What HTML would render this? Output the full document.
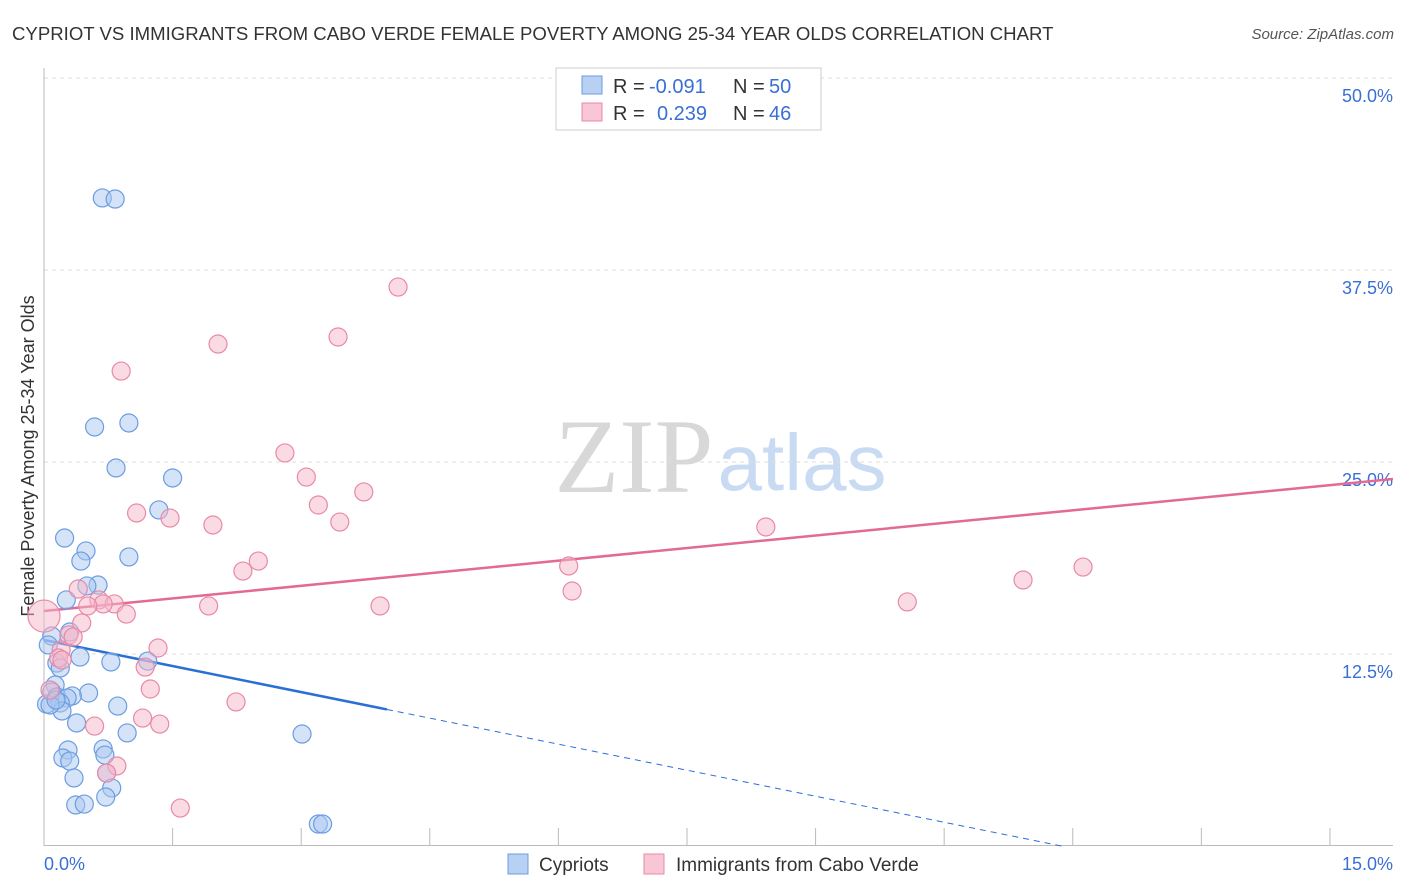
<!DOCTYPE html>
<html><head><meta charset="utf-8"><style>
body{margin:0;background:#fff;font-family:"Liberation Sans",sans-serif;}
svg{display:block}
</style></head><body>
<svg id="chart" width="1406" height="892" xmlns="http://www.w3.org/2000/svg">
<text x="12" y="40" font-size="18.6" fill="#333">CYPRIOT VS IMMIGRANTS FROM CABO VERDE FEMALE POVERTY AMONG 25-34 YEAR OLDS CORRELATION CHART</text>
<text x="1394" y="39" font-size="15" fill="#555" font-style="italic" text-anchor="end">Source: ZipAtlas.com</text>
<text transform="translate(34,456) rotate(-90)" font-size="18" fill="#333" text-anchor="middle">Female Poverty Among 25-34 Year Olds</text>
<g>
<text x="634" y="492" font-size="106" fill="#d8d8d8" font-family="Liberation Serif,serif" text-anchor="middle">ZIP</text>
<text x="802" y="490" font-size="80" fill="#c9dbf2" text-anchor="middle">atlas</text>
</g>
<g id="grid"></g><g id="axes"></g><g id="trend"></g><g id="pts"></g>
<g>
<rect x="556" y="68" width="265" height="62" fill="#fff" stroke="#ccc"/>
<rect x="582" y="76" width="20" height="18" fill="#b8d0f2" stroke="#6b9de0"/>
<rect x="582" y="103" width="20" height="18" fill="#f8c6d4" stroke="#e889a8"/>
<text x="613" y="93" font-size="20" fill="#333">R =</text>
<text x="649" y="93" font-size="20" fill="#3a6fd6">-0.091</text>
<text x="733" y="93" font-size="20" fill="#333">N =</text>
<text x="769" y="93" font-size="20" fill="#3a6fd6">50</text>
<text x="613" y="120" font-size="20" fill="#333">R =</text>
<text x="657" y="120" font-size="20" fill="#3a6fd6">0.239</text>
<text x="733" y="120" font-size="20" fill="#333">N =</text>
<text x="769" y="120" font-size="20" fill="#3a6fd6">46</text>
</g>
<g>
<rect x="508" y="854" width="20" height="20" fill="#b8d0f2" stroke="#6b9de0"/>
<text x="539" y="871" font-size="19" fill="#333">Cypriots</text>
<rect x="644" y="854" width="20" height="20" fill="#f8c6d4" stroke="#e889a8"/>
<text x="676" y="871" font-size="19" fill="#333">Immigrants from Cabo Verde</text>
</g>
</svg>
<script>
const yTicks=[12.5,25.0,37.5,50.0];
const yTickLabels=["12.5%","25.0%","37.5%","50.0%"];
const xTickLabels=["0.0%","15.0%"];
const blueX=[0.68,0.83,0.59,0.99,0.84,1.50,1.34,0.24,0.99,0.49,0.43,0.63,0.50,0.26,0.30,0.09,0.42,0.78,1.21,0.15,0.19,0.13,0.09,0.15,0.52,0.33,0.27,0.03,0.19,0.21,0.86,0.38,0.97,3.01,0.28,0.69,0.71,0.22,0.30,0.35,0.73,0.79,0.72,0.37,0.47,3.20,3.25,0.05,0.07,0.14];
const blueY=[42.19,42.12,27.28,27.54,24.61,23.96,21.88,20.05,18.82,19.21,18.55,16.99,16.93,16.02,13.93,13.67,12.30,11.98,12.04,11.91,11.59,10.48,10.03,9.70,9.96,9.77,9.64,9.24,9.31,8.79,9.11,8.01,7.36,7.29,6.25,6.32,5.92,5.73,5.53,4.43,4.75,3.78,3.19,2.67,2.73,1.43,1.43,13.09,9.18,9.51];
const pinkX=[4.13,2.03,3.43,0.90,2.81,3.06,3.73,3.20,1.47,1.08,1.97,3.45,8.42,2.50,2.32,6.12,12.12,11.42,0.40,6.16,0.64,0.82,0.69,0.51,1.92,3.92,10.07,0.96,0.44,0.29,0.34,1.33,0.20,0.17,1.18,1.24,2.24,1.15,1.35,0.59,0.85,0.73,1.59,0.00,0.07,0.21];
const pinkY=[36.39,32.68,33.14,30.92,25.59,24.02,23.05,22.20,21.35,21.68,20.90,21.09,20.77,18.55,17.90,18.23,18.16,17.32,16.73,16.60,16.02,15.76,15.76,15.63,15.63,15.63,15.89,15.10,14.52,13.74,13.61,12.89,12.76,12.24,11.65,10.22,9.38,8.33,7.94,7.81,5.21,4.75,2.47,14.97,10.16,12.11];
const pinkR=[9,9,9,9,9,9,9,9,9,9,9,9,9,9,9,9,9,9,9,9,9,9,9,9,9,9,9,9,9,9,9,9,9,9,9,9,9,9,9,9,9,9,9,16,9,9];
const blueTrend=[13.41,-1.13];
const pinkTrend=[15.30,0.546];
const NS="http://www.w3.org/2000/svg";
const X=v=>44+v*85.73, Y=v=>846-v*15.36;
function mk(p,t,a){const e=document.createElementNS(NS,t);for(const k in a)e.setAttribute(k,a[k]);document.getElementById(p).appendChild(e);return e;}
yTicks.forEach((t,i)=>{
 const g=mk('grid','line',{x1:44,x2:1393,y1:Y(t),y2:Y(t),stroke:'#ddd','stroke-dasharray':'4,4'});
 
 
 const l=mk('grid','text',{x:1393,y:Y(t)+24,'font-size':18,fill:'#3a6fd6','text-anchor':'end'});l.textContent=yTickLabels[i];
 
 
});
const ax=mk('axes','line',{x1:44,x2:44,y1:68,y2:846,stroke:'#bbb'});


const bx=mk('axes','line',{x1:44,x2:1393,y1:845.5,y2:845.5,stroke:'#bbb'});


for(let i=1;i<=10;i++){const t=mk('axes','line',{x1:X(i*1.5),x2:X(i*1.5),y1:828,y2:846,stroke:'#bbb'});
 
 }
[[0,'start',44],[15,'end',1393]].forEach((d,i)=>{const l=mk('axes','text',{x:d[2],y:870,'font-size':18,fill:'#3a6fd6','text-anchor':d[1]});l.textContent=xTickLabels[i];
 
 });
function drawPts(xs,ys,fill,stroke,name,rs){xs.forEach((x,i)=>{const c=mk('pts','circle',{cx:X(x),cy:Y(ys[i]),r:rs?rs[i]:9,fill:fill,'fill-opacity':0.5,stroke:stroke,'stroke-width':1.2});
 
 });}
drawPts(blueX,blueY,'#a9c8f0','#6b9de0','cypriot-point');
drawPts(pinkX,pinkY,'#f5b8ca','#e889a8','cabo-verde-point',pinkR);
const bt=v=>blueTrend[0]+blueTrend[1]*v, pt=v=>pinkTrend[0]+pinkTrend[1]*v;
const xEnd=-blueTrend[0]/blueTrend[1];
const l1=mk('trend','line',{x1:X(0),y1:Y(bt(0)),x2:X(4),y2:Y(bt(4)),stroke:'#2a6fd6','stroke-width':2.5});


const l2=mk('trend','line',{x1:X(4),y1:Y(bt(4)),x2:X(xEnd),y2:Y(0),stroke:'#2a6fd6','stroke-width':1,'stroke-dasharray':'6,5'});


const l3=mk('trend','line',{x1:X(0),y1:Y(pt(0)),x2:1393,y2:Y(pt(15.74)),stroke:'#e26a93','stroke-width':2.5});


</script>
</body></html>
